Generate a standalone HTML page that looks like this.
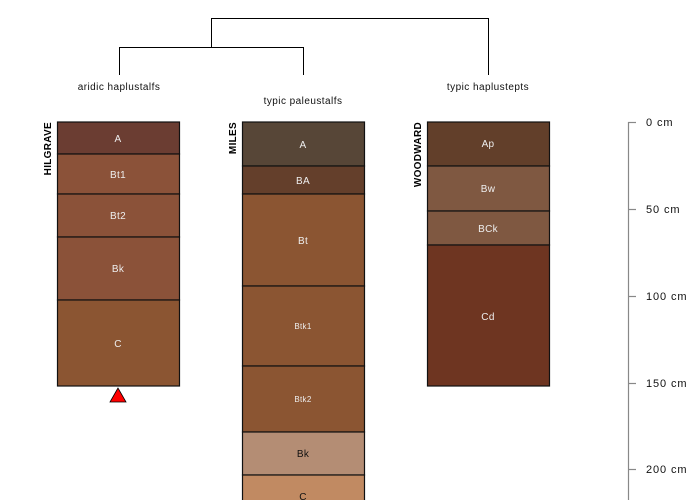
<!DOCTYPE html>
<html><head><style>body{margin:0;background:#fff}svg{display:block}text{font-family:"Liberation Sans",sans-serif}</style></head><body>
<svg width="700" height="500" xmlns="http://www.w3.org/2000/svg">
<g stroke="#000" stroke-width="1" fill="none">
<path d="M211.5 47V18.5H488.5V75M119.5 75V47.5H303.5V75"/>
</g>
<g font-size="10" fill="#111" text-anchor="middle" letter-spacing="0.45">
<text x="119" y="90">aridic haplustalfs</text>
<text x="303" y="104">typic paleustalfs</text>
<text x="488" y="90">typic haplustepts</text>
</g>
<g stroke="#111" stroke-width="1.2">
<rect x="57.5" y="122" width="122" height="32" fill="#6b3d32"/>
<rect x="57.5" y="154" width="122" height="40" fill="#8b5239"/>
<rect x="57.5" y="194" width="122" height="43" fill="#8b5239"/>
<rect x="57.5" y="237" width="122" height="63" fill="#8b5239"/>
<rect x="57.5" y="300" width="122" height="86" fill="#8b5532"/>
<rect x="242.5" y="122" width="122" height="44" fill="#574637"/>
<rect x="242.5" y="166" width="122" height="28" fill="#643f2b"/>
<rect x="242.5" y="194" width="122" height="92" fill="#8b5532"/>
<rect x="242.5" y="286" width="122" height="80" fill="#8b5532"/>
<rect x="242.5" y="366" width="122" height="66" fill="#8b5532"/>
<rect x="242.5" y="432" width="122" height="43" fill="#b48d74"/>
<rect x="242.5" y="475" width="122" height="40" fill="#c18a62"/>
<rect x="427.5" y="122" width="122" height="44" fill="#623f2a"/>
<rect x="427.5" y="166" width="122" height="45" fill="#7f5841"/>
<rect x="427.5" y="211" width="122" height="34" fill="#7f5841"/>
<rect x="427.5" y="245" width="122" height="141" fill="#6e3521"/>
</g>
<g font-size="10" fill="#eee" text-anchor="middle" letter-spacing="0.3">
<text x="118" y="142">A</text><text x="118" y="178">Bt1</text><text x="118" y="219">Bt2</text>
<text x="118" y="272">Bk</text><text x="118" y="347">C</text>
<text x="303" y="148">A</text><text x="303" y="184">BA</text><text x="303" y="244">Bt</text>
<text x="303" y="329" font-size="8">Btk1</text><text x="303" y="402" font-size="8">Btk2</text>
<text x="303" y="457" fill="#111">Bk</text><text x="303" y="500" fill="#111">C</text>
<text x="488" y="147">Ap</text><text x="488" y="192">Bw</text><text x="488" y="232">BCk</text><text x="488" y="320">Cd</text>
</g>
<g font-size="10" font-weight="bold" fill="#000" text-anchor="end" letter-spacing="0.3">
<text transform="translate(51,122) rotate(-90)">HILGRAVE</text>
<text transform="translate(236,122) rotate(-90)">MILES</text>
<text transform="translate(421,122) rotate(-90)">WOODWARD</text>
</g>
<polygon points="118,388 110,402 126,402" fill="#f00" stroke="#000" stroke-width="0.8"/>
<g stroke="#888" stroke-width="1.2">
<line x1="628.5" y1="122" x2="628.5" y2="500"/>
<line x1="628" y1="122.5" x2="636" y2="122.5"/>
<line x1="628" y1="209.5" x2="636" y2="209.5"/>
<line x1="628" y1="296.5" x2="636" y2="296.5"/>
<line x1="628" y1="383.5" x2="636" y2="383.5"/>
<line x1="628" y1="469.5" x2="636" y2="469.5"/>
</g>
<g font-size="11" fill="#111" letter-spacing="0.9">
<text x="646" y="126">0 cm</text><text x="646" y="213">50 cm</text><text x="646" y="300">100 cm</text>
<text x="646" y="387">150 cm</text><text x="646" y="473">200 cm</text>
</g>
</svg>
</body></html>
